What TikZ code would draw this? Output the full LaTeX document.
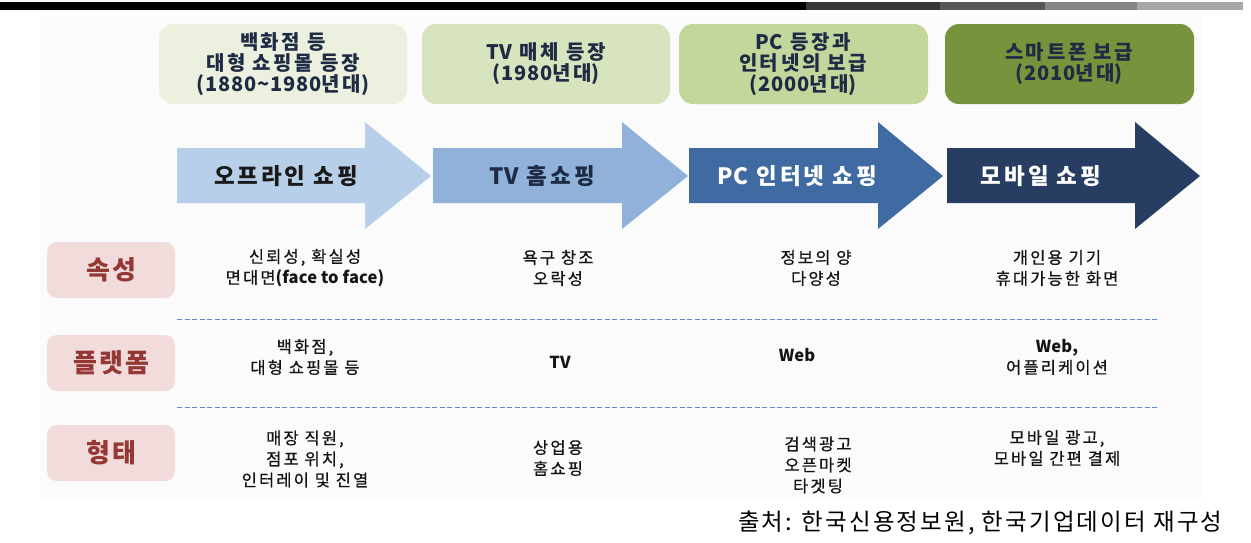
\documentclass[tikz,border=0pt]{standalone}
\usepackage{fontspec}
\setmainfont{Noto Sans CJK KR}
\newfontfamily\wideA{Noto Sans CJK KR}[LetterSpace=13]
\newfontfamily\wideB{Noto Sans CJK KR}[LetterSpace=8]
\newfontfamily\wideC{Noto Sans CJK KR}[LetterSpace=9]
\newfontfamily\cellfont{Noto Sans CJK KR}[LetterSpace=13, FakeBold=0.6]
\newfontfamily\numfont{Noto Sans CJK KR}[LetterSpace=4]
\newfontfamily\latfont{Noto Sans CJK KR}[LetterSpace=1]
\newcommand{\nm}[1]{{\numfont #1}}
\newcommand{\lt}[1]{{\latfont\bfseries #1}}
\definecolor{era1}{HTML}{EBF1DE}
\definecolor{era2}{HTML}{D7E4BD}
\definecolor{era3}{HTML}{C3D69B}
\definecolor{era4}{HTML}{77933C}
\definecolor{navy}{HTML}{1F2A44}
\definecolor{arr1}{HTML}{B7CFE8}
\definecolor{arr2}{HTML}{8FB1DA}
\definecolor{arr3}{HTML}{3F6AA2}
\definecolor{arr4}{HTML}{283D62}
\definecolor{pinkfill}{HTML}{F2DCDB}
\definecolor{pinktext}{HTML}{953735}
\definecolor{dashblue}{HTML}{5A8AC6}
\definecolor{bgpanel}{HTML}{FBFBFB}
\tikzset{
  erabox/.style={rounded corners=14pt, fill=#1},
  eratext/.style={text=navy, align=center, font=\wideA\fontsize{20}{21}\selectfont\bfseries},
  arrowtext/.style={font=\wideA\fontsize{22.5}{25}\selectfont\bfseries},
  rowlabel/.style={rounded corners=10pt, fill=pinkfill, text=pinktext, minimum width=128pt, minimum height=56pt, font=\wideB\fontsize{26}{30}\selectfont\bfseries},
  celltext/.style={align=center, text=black!92, font=\cellfont\fontsize{16.5}{21}\selectfont},
  sep/.style={dashblue, dash pattern=on 5pt off 2.5pt, line width=1pt}
}
\begin{document}
\begin{tikzpicture}[x=1pt,y=-1pt]
\useasboundingbox (0,0) rectangle (1251,542);
% background panel
\fill[bgpanel] (40,16) rectangle (1202,498);
% top bar
\fill[black] (0,2) rectangle (806,10);
\fill[black!78] (806,2) rectangle (940,10);
\fill[black!66] (940,2) rectangle (1045,10);
\fill[black!48] (1045,2) rectangle (1137,10);
\fill[black!34] (1137,2) rectangle (1243,10);
% era boxes
\fill[erabox=era1] (159,24) rectangle (407,104);
\fill[erabox=era2] (422,24) rectangle (670,104);
\fill[erabox=era3] (679,24) rectangle (928,104);
\fill[erabox=era4] (945,24) rectangle (1194,104);
\node[eratext] (e1) at (283,64) {백화점 등\\대형 쇼핑몰 등장\\\nm{(1880\textasciitilde1980}년대\nm{)}};
\node[eratext] (e2) at (546,64) {\nm{TV} 매체 등장\\\nm{(1980}년대\nm{)}};
\node[eratext] (e3) at (803,64) {\nm{PC} 등장과\\인터넷의 보급\\\nm{(2000}년대\nm{)}};
\node[eratext] (e4) at (1069,64) {스마트폰 보급\\\nm{(2010}년대\nm{)}};
% arrows
\fill[arr1] (177,148) -- (365,148) -- (365,122) -- (431,176) -- (365,229) -- (365,203) -- (177,203) -- cycle;
\fill[arr2] (433,148) -- (622,148) -- (622,122) -- (688,176) -- (622,229) -- (622,203) -- (433,203) -- cycle;
\fill[arr3] (689,148) -- (878,148) -- (878,122) -- (943,176) -- (878,229) -- (878,203) -- (689,203) -- cycle;
\fill[arr4] (947,148) -- (1135,148) -- (1135,122) -- (1200,176) -- (1135,229) -- (1135,203) -- (947,203) -- cycle;
\node[arrowtext, text=black!90] (a1) at (286,176) {오프라인 쇼핑};
\node[arrowtext, text=navy] (a2) at (542,176) {\nm{TV} 홈쇼핑};
\node[arrowtext, text=white] (a3) at (797,176) {\nm{PC} 인터넷 쇼핑};
\node[arrowtext, text=white] (a4) at (1041,176) {모바일 쇼핑};
% row labels
\node[rowlabel] (r1) at (111,270) {속성};
\node[rowlabel] (r2) at (111,363) {플랫폼};
\node[rowlabel] (r3) at (111,453) {형태};
% separators
\coordinate (s1a) at (177,319);
\coordinate (s1b) at (1157,319);
\coordinate (s2a) at (177,407);
\coordinate (s2b) at (1157,407);
\draw[sep] (s1a) -- (s1b);
\draw[sep] (s2a) -- (s2b);
% row 1
\node[celltext] (c11) at (305,268) {신뢰성, 확실성\\면대면\lt{(face to face)}};
\node[celltext] (c12) at (558,268) {욕구 창조\\오락성};
\node[celltext] (c13) at (816,268) {정보의 양\\다양성};
\node[celltext] (c14) at (1057,268) {개인용 기기\\휴대가능한 화면};
% row 2
\node[celltext] (c21) at (305,357) {백화점,\\대형 쇼핑몰 등};
\node[celltext] (c22) at (560,362) {\lt{TV}};
\node[celltext] (c23) at (797,355) {\lt{Web}};
\node[celltext] (c24) at (1057,357) {\lt{Web,}\\어플리케이션};
% row 3
\node[celltext] (c31) at (305,459) {매장 직원,\\점포 위치,\\인터레이 및 진열};
\node[celltext] (c32) at (558,458) {상업용\\홈쇼핑};
\node[celltext] (c33) at (818,465) {검색광고\\오픈마켓\\타겟팅};
\node[celltext] (c34) at (1057,448) {모바일 광고,\\모바일 간편 결제};
% source
\node[anchor=east, text=black, font=\wideC\fontsize{23.5}{26}\selectfont] (src) at (1226,523) {출처: 한국신용정보원, 한국기업데이터 재구성};
\end{tikzpicture}
\end{document}
